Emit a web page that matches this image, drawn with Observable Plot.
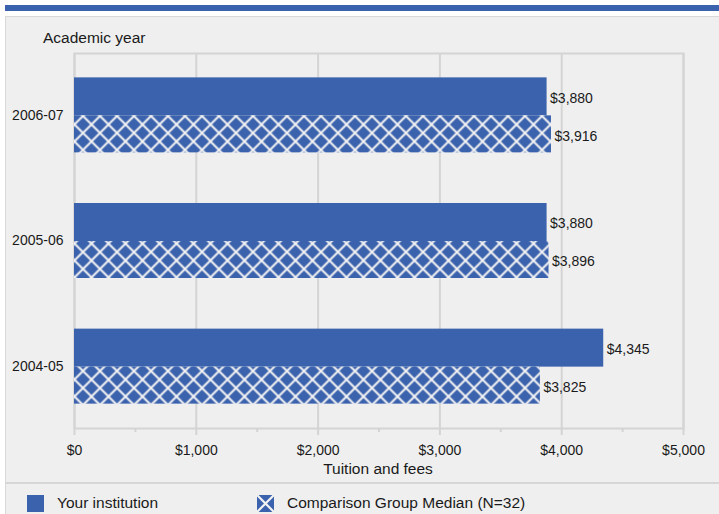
<!DOCTYPE html>
<html><head><meta charset="utf-8">
<script src="https://cdn.jsdelivr.net/npm/d3@7"></script>
<script src="https://cdn.jsdelivr.net/npm/@observablehq/plot@0.6"></script>
<style>
html,body{margin:0;padding:0;background:#fff;}
body{position:relative;width:719px;height:514px;overflow:hidden;font-family:"Liberation Sans",Arial,sans-serif;color:#1a1a1a;}
#stripe{position:absolute;left:5px;top:5px;width:714px;height:6px;background:#3b62ad;}
#panel{position:absolute;left:5px;top:16px;width:720px;height:510px;background:#efefef;border:1px solid #d9d9d9;box-sizing:border-box;}
#chart{position:absolute;left:5px;top:17px;}
#ylab{position:absolute;left:43px;top:29px;font-size:15.5px;}
#xlab{position:absolute;left:278px;width:200px;text-align:center;top:460px;font-size:15.5px;}
#sep{position:absolute;left:5px;top:482px;width:714px;height:2px;background:#d6d6d6;}
.leg{position:absolute;top:493px;font-size:15.5px;line-height:20px;display:flex;align-items:center;}
.leg svg{margin-right:13px;}
</style></head>
<body>
<div id="stripe"></div>
<div id="panel"></div>
<div id="chart"></div>
<div id="ylab">Academic year</div>
<div id="xlab">Tuition and fees</div>
<div id="sep"></div>
<div id="legend"></div>
<script>
const years = ["2006-07", "2005-06", "2004-05"];
const yourInstitution = [3880, 3880, 4345];
const comparisonMedian = [3916, 3896, 3825];
const seriesNames = ["Your institution", "Comparison Group Median (N=32)"];
const majorTicks = [0, 1000, 2000, 3000, 4000, 5000];
const minorTicks = [500, 1500, 2500, 3500, 4500];

const BLUE = "#3b62ad";
const GRID = "#d4d4d4";
const fmt = d3.format("$,");

const rowsYour = years.map((y, i) => ({year: y, series: seriesNames[0], value: yourInstitution[i]}));
const rowsComp = years.map((y, i) => ({year: y, series: seriesNames[1], value: comparisonMedian[i]}));

const chart = Plot.plot({
  width: 714,
  height: 466,
  marginLeft: 69,
  marginRight: 36,
  marginTop: 36,
  marginBottom: 55,
  style: {fontFamily: "'Liberation Sans', Arial, sans-serif", fontSize: "14px", background: "transparent", color: "#1a1a1a"},
  x: {domain: [0, 5000]},
  y: {domain: years, paddingInner: 0.403, paddingOuter: 0.194, round: false},
  marks: [
    Plot.gridX(majorTicks, {stroke: GRID, strokeOpacity: 1, strokeWidth: 2}),
    Plot.frame({stroke: GRID, strokeWidth: 2}),
    Plot.axisX(majorTicks, {tickSize: 7, tickPadding: 10, stroke: GRID, strokeWidth: 2, tickFormat: fmt, label: null, fill: "#1a1a1a"}),
    Plot.axisX(minorTicks, {tickSize: 4, tickFormat: () => "", stroke: GRID, strokeWidth: 2, label: null}),
    Plot.axisY({tickSize: 0, tickPadding: 11, label: null, fill: "#1a1a1a"}),
    Plot.barX(rowsYour, {x: "value", y: "year", fill: BLUE, insetBottom: 37}),
    Plot.barX(rowsComp, {x: "value", y: "year", fill: "url(#hatch)", insetTop: 38}),
    Plot.text(rowsYour, {x: "value", y: "year", text: d => fmt(d.value), dx: 3, dy: -17, textAnchor: "start", fill: "#1a1a1a"}),
    Plot.text(rowsComp, {x: "value", y: "year", text: d => fmt(d.value), dx: 3, dy: 21, textAnchor: "start", fill: "#1a1a1a"})
  ]
});

// hatch pattern definition
const defs = d3.select(chart).insert("defs", ":first-child");
const pat = defs.append("pattern").attr("id", "hatch").attr("patternUnits", "userSpaceOnUse")
  .attr("width", 17).attr("height", 17).attr("x", 1.5).attr("y", 5.5);
pat.append("rect").attr("width", 17).attr("height", 17).attr("fill", BLUE);
pat.append("path").attr("d", "M-2,-2L19,19M19,-2L-2,19").attr("stroke", "#f2f2f2").attr("stroke-width", 2);
document.getElementById("chart").appendChild(chart);

// legend
const legend = document.getElementById("legend");
function swatch(hatched) {
  const s = d3.create("svg").attr("width", 17).attr("height", 17);
  s.append("rect").attr("width", 17).attr("height", 17).attr("fill", BLUE);
  if (hatched) s.append("path").attr("d", "M0,0L17,17M17,0L0,17").attr("stroke", "#f2f2f2").attr("stroke-width", 2.2);
  return s.node();
}
const lefts = [27, 257];
seriesNames.forEach((name, i) => {
  const d = document.createElement("div");
  d.className = "leg";
  d.style.left = lefts[i] + "px";
  d.appendChild(swatch(i === 1));
  const t = document.createElement("span");
  t.textContent = name;
  d.appendChild(t);
  legend.appendChild(d);
});
</script>
</body></html>
